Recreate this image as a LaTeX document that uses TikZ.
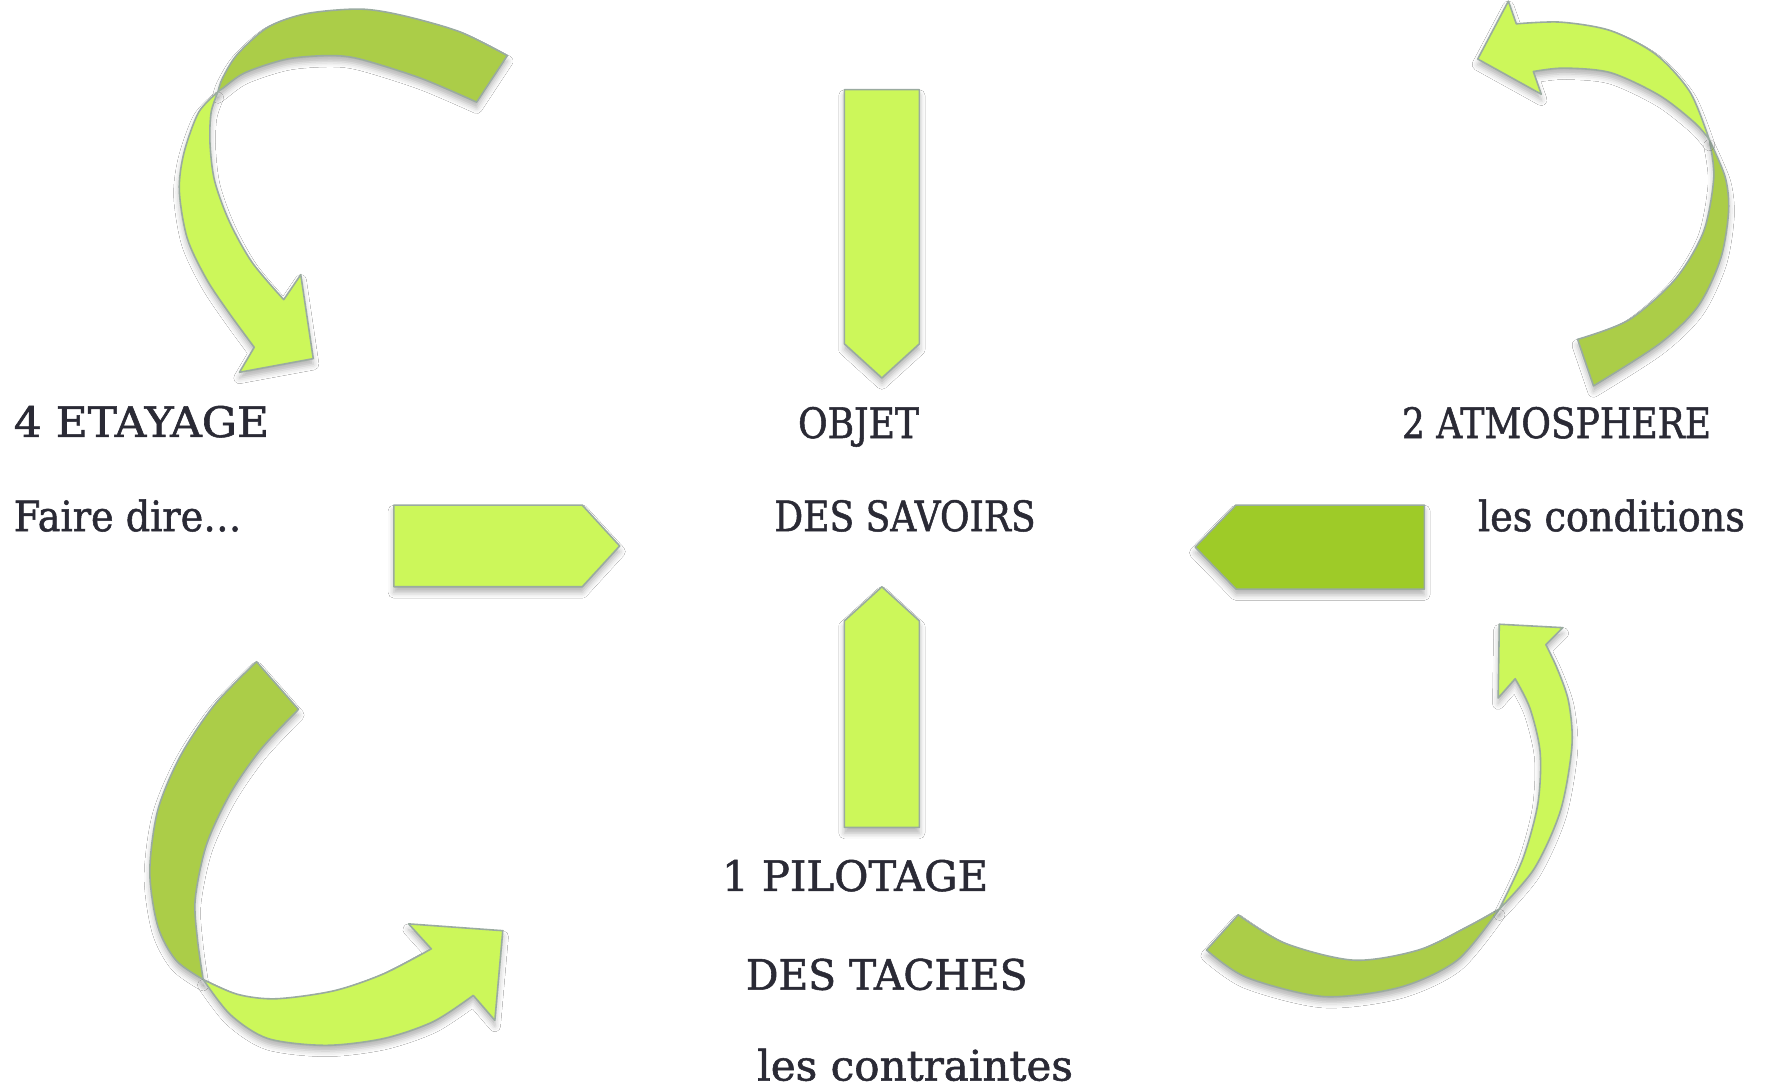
\documentclass[tikz,border=0pt]{standalone}
\usepackage{fontspec}
\setmainfont{DejaVu Serif}[FakeStretch=0.85,FakeBold=1.2]
\usetikzlibrary{shadows.blur}
\definecolor{lg}{HTML}{CCF75A}
\definecolor{dg}{HTML}{ABCD48}
\definecolor{rg}{HTML}{9ECB28}
\definecolor{edge}{HTML}{9AABA0}
\definecolor{txt}{HTML}{2A2A35}
\tikzset{
  shp/.style={draw=edge, line width=1.4pt, line join=round,
    blur shadow={shadow xshift=0pt, shadow yshift=-5pt, shadow blur radius=5pt, shadow opacity=30}},
  lightpart/.style={shp, fill=lg},
  darkpart/.style={shp, fill=dg},
  rightpart/.style={shp, fill=rg},
  lbl/.style={anchor=base west, inner sep=0pt, text=txt, font=\fontsize{37}{40}\selectfont}
}
\begin{document}
\begin{tikzpicture}[x=1pt,y=-1pt]
\useasboundingbox (0,0) rectangle (1560.4,962.1);
\fill[white] (0,0) rectangle (1560.4,962.1);

% ---- top-left curved arrow
\path[darkpart] plot[smooth] coordinates {(192,81) (196,69) (209,48) (236,24) (270,12) (317,8) (354,13.5) (405,28) (447,49)}
  -- (420,90)
  -- plot[smooth] coordinates {(420,90) (371,69) (317,52) (290,49) (253,52) (216,64) (196,78) (192,81)} -- cycle;
\path[lightpart] plot[smooth] coordinates {(192,81) (175,99) (162,135) (158,168) (165,210) (182,246) (202,276) (224,306)}
  -- (211,328) -- (276,316) -- (265,242) -- (250,264)
  -- plot[smooth] coordinates {(250,264) (222,231) (202,195) (189,159) (185,126) (186,99) (192,81)} -- cycle;

% ---- top-right curved arrow
\path[darkpart] plot[smooth] coordinates {(1506,123) (1520,156) (1523,186) (1516,228) (1496,270) (1462,303) (1404,340)}
  -- (1390,299)
  -- plot[smooth] coordinates {(1390,299) (1435,282) (1476,246) (1501,204) (1510,156) (1506,123)} -- cycle;
\path[lightpart] plot[smooth] coordinates {(1506,123) (1489,81) (1459,48) (1419,27) (1375,19.5) (1336,21)}
  -- (1329,1) -- (1302,52) -- (1358,83) -- (1351,63)
  -- plot[smooth] coordinates {(1351,63) (1378,60) (1419,64) (1462,84) (1493,108) (1506,123)} -- cycle;

% ---- bottom-left curved arrow
\path[darkpart] plot[smooth] coordinates {(226,583) (189,621) (159,666) (139,714) (132,768) (139,816) (155,846) (179,863)}
  -- plot[smooth] coordinates {(179,863) (174,828) (172,792) (182,744) (203,699) (230,660) (263,625)} -- cycle;
\path[lightpart] plot[smooth] coordinates {(179,863) (203,894) (236,915) (287,921) (338,915) (382,900) (417,877)}
  -- (436,899) -- (443,820) -- (360,814) -- (380,836)
  -- plot[smooth] coordinates {(380,836) (338,858) (294,873) (243,880) (209,876) (179,863)} -- cycle;

% ---- bottom-right curved arrow
\path[darkpart] plot[smooth] coordinates {(1063,837) (1098,861) (1166,878) (1233,870) (1284,846) (1321,801)}
  -- plot[smooth] coordinates {(1321,801) (1294,816) (1250,837) (1193,846) (1132,831) (1091,806)} -- cycle;
\path[lightpart] plot[smooth] coordinates {(1321,801) (1352,765) (1375,714) (1385,657) (1382,618) (1372,589) (1362,568)}
  -- (1377,553) -- (1321,550) -- (1320,615) -- (1335,598)
  -- plot[smooth] coordinates {(1335,598) (1348,624) (1357,663) (1355,708) (1342,756) (1321,801)} -- cycle;

% ---- straight arrows
\path[lightpart] (744,79) -- (810,79) -- (810,303) -- (777,333) -- (744,303) -- cycle;
\path[lightpart] (777,517) -- (810,547) -- (810,729) -- (744,729) -- (744,547) -- cycle;
\path[lightpart] (347,445) -- (513,445) -- (546,481) -- (513,517) -- (347,517) -- cycle;
\path[rightpart] (1089,445) -- (1255,445) -- (1255,519) -- (1089,519) -- (1053,482) -- cycle;

% ---- labels
\node[lbl] (etay) at (12,385) {\scalebox{1.23}[1]{4 ETAYAGE}};
\node[lbl] (faire) at (12,468) {\scalebox{1.07}[1]{Faire dire…}};
\node[lbl] (objet) at (703,386) {\scalebox{1.01}[1]{OBJET}};
\node[lbl] (savoirs) at (682,468) {\scalebox{1.01}[1]{DES SAVOIRS}};
\node[lbl] (atmo) at (1235,386) {\scalebox{1.01}[1]{2 ATMOSPHERE}};
\node[lbl] (cond) at (1302,468) {\scalebox{1.07}[1]{les conditions}};
\node[lbl] (pilot) at (636,785) {\scalebox{1.17}[1]{1 PILOTAGE}};
\node[lbl] (taches) at (657,872) {\scalebox{1.14}[1]{DES TACHES}};
\node[lbl] (contr) at (667,952) {\scalebox{1.18}[1]{les contraintes}};
\end{tikzpicture}
\end{document}
